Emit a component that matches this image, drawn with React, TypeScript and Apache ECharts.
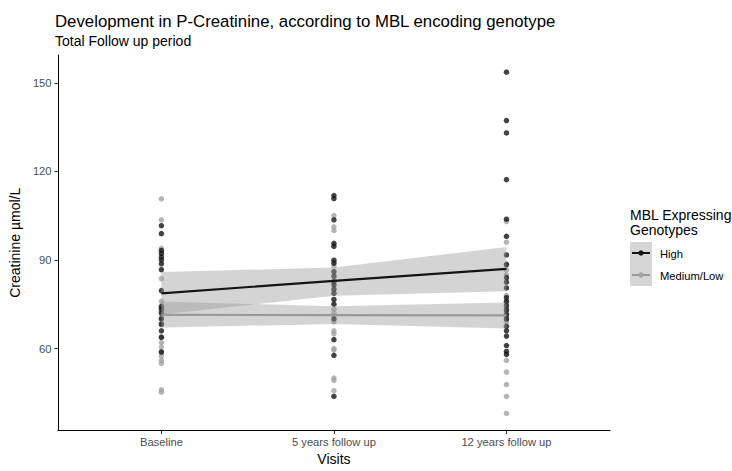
import React, { useEffect, useRef } from "react";
import * as echarts from "echarts";

const visits = ["Baseline", "5 years follow up", "12 years follow up"];
const visitX = [1, 2, 3];

// Raw observations (Creatinine µmol/L)
const highBaseline = [101.6, 98.9, 93.2, 92.2, 91, 90, 88.7, 86.7, 79.6, 74.3, 73.3, 72, 70, 68.3, 66, 63.8, 58.8];
const highFiveYears = [111.8, 110.8, 103.6, 95.6, 94.6, 89.9, 88.9, 86, 84.5, 82.6, 81.5, 80, 78.7, 76.6, 75, 70, 63, 57.7, 43.8];
const highTwelveYears = [153.6, 137.2, 133, 117.2, 103.8, 98, 91.7, 88.5, 84, 82.5, 80.5, 77.2, 76, 74.5, 73, 71.5, 70, 67.5, 66, 64.2, 61, 59, 58];

const lowBaseline = [110.7, 103.6, 93.9, 83.7, 76, 74, 72.5, 70.5, 68, 64, 62, 60.5, 59, 57.5, 56, 55, 46, 45.2];
const lowFiveYears = [105, 101.2, 100, 87.9, 83, 73.3, 72, 71, 69, 66, 65, 60, 59.5, 50, 49.2, 45.7];
const lowTwelveYears = [103, 96, 88.2, 86.6, 85, 78, 75.5, 73.5, 72, 70.5, 69, 56, 52, 47.8, 43.8, 38];

// Fitted trend and confidence band at each visit
const highFit = [78.7, 82.9, 87.0];
const highLower = [71.5, 77.9, 79.4];
const highUpper = [85.9, 87.4, 94.4];
const lowFit = [71.4, 71.3, 71.2];
const lowLower = [67.1, 68.3, 66.8];
const lowUpper = [75.9, 74.3, 75.6];

const yTicks = [60, 90, 120, 150];

const FONT = "Liberation Sans, Arial, Helvetica, sans-serif";
const HIGH_COLOR = "#141414";
const LOW_COLOR = "#a3a3a3";
const AXIS_TEXT = "#4d4d4d";

function toPoints(groups: number[][]) {
  const out: number[][] = [];
  groups.forEach((vals, i) => vals.forEach((v) => out.push([visitX[i], v])));
  return out;
}

function bandSeries(lower: number[], upper: number[]) {
  return {
    type: "custom",
    z: 3,
    silent: true,
    data: [[2, (lower[1] + upper[1]) / 2]],
    renderItem: (_params: any, api: any) => {
      const pts: number[][] = [];
      for (let i = 0; i < visitX.length; i++) pts.push(api.coord([visitX[i], upper[i]]));
      for (let i = visitX.length - 1; i >= 0; i--) pts.push(api.coord([visitX[i], lower[i]]));
      return {
        type: "polygon",
        shape: { points: pts },
        style: { fill: "rgba(153,153,153,0.42)", stroke: "none" },
      };
    },
  };
}

export default function App() {
  const ref = useRef<HTMLDivElement>(null);
  useEffect(() => {
    if (!ref.current) return;
    const chart = echarts.init(ref.current, undefined, { renderer: "svg" });
    chart.setOption({
      animation: false,
      backgroundColor: "#ffffff",
      textStyle: { fontFamily: FONT },
      grid: { left: 55, right: 122, top: 55, bottom: 35, containLabel: false },
      xAxis: {
        type: "value",
        min: 0.4,
        max: 3.6,
        name: "Visits",
        nameLocation: "middle",
        nameGap: 20,
        nameTextStyle: { fontFamily: FONT, fontSize: 14, color: "#000000" },
        axisLine: { show: true, lineStyle: { color: "#000000", width: 1 } },
        axisTick: { show: true, length: 3.5, customValues: visitX, lineStyle: { color: "#333333" } },
        axisLabel: {
          customValues: visitX,
          formatter: (v: number) => visits[Math.round(v) - 1] ?? "",
          fontFamily: FONT,
          fontSize: 11.2,
          color: AXIS_TEXT,
          margin: 5.5,
        },
        splitLine: { show: false },
      },
      yAxis: {
        type: "value",
        min: 32.2,
        max: 159.4,
        name: "Creatinine µmol/L",
        nameLocation: "middle",
        nameGap: 28,
        nameTextStyle: { fontFamily: FONT, fontSize: 14, color: "#000000" },
        axisLine: { show: true, lineStyle: { color: "#000000", width: 1 } },
        axisTick: { show: true, length: 3.5, customValues: yTicks, lineStyle: { color: "#333333" } },
        axisLabel: {
          customValues: yTicks,
          fontFamily: FONT,
          fontSize: 11.2,
          color: AXIS_TEXT,
          margin: 6.3,
        },
        splitLine: { show: false },
      },
      series: [
        {
          name: "Medium/Low",
          type: "scatter",
          z: 1,
          symbolSize: 5.5,
          itemStyle: { color: LOW_COLOR },
          data: toPoints([lowBaseline, lowFiveYears, lowTwelveYears]),
        },
        {
          name: "High",
          type: "scatter",
          z: 2,
          symbolSize: 5.5,
          itemStyle: { color: HIGH_COLOR },
          data: toPoints([highBaseline, highFiveYears, highTwelveYears]),
        },
        bandSeries(highLower, highUpper),
        bandSeries(lowLower, lowUpper),
        {
          name: "High fit",
          type: "line",
          z: 5,
          symbol: "none",
          lineStyle: { color: HIGH_COLOR, width: 2.2 },
          data: visitX.map((x, i) => [x, highFit[i]]),
        },
        {
          name: "Medium/Low fit",
          type: "line",
          z: 4,
          symbol: "none",
          lineStyle: { color: "#999999", width: 2.2 },
          data: visitX.map((x, i) => [x, lowFit[i]]),
        },
      ],
      graphic: [
        {
          type: "text",
          x: 55,
          y: 21,
          style: {
            text: "Development in P-Creatinine, according to MBL encoding genotype",
            font: `16.8px ${FONT}`,
            fill: "#000000",
            verticalAlign: "middle",
          },
        },
        {
          type: "text",
          x: 55,
          y: 41,
          style: {
            text: "Total Follow up period",
            font: `14px ${FONT}`,
            fill: "#000000",
            verticalAlign: "middle",
          },
        },
        {
          type: "text",
          x: 630,
          y: 215,
          style: { text: "MBL Expressing", font: `14px ${FONT}`, fill: "#000000", verticalAlign: "middle" },
        },
        {
          type: "text",
          x: 630,
          y: 229.5,
          style: { text: "Genotypes", font: `14px ${FONT}`, fill: "#000000", verticalAlign: "middle" },
        },
        { type: "rect", shape: { x: 630, y: 242, width: 22, height: 44 }, style: { fill: "#d6d6d6" } },
        { type: "line", shape: { x1: 632, y1: 253, x2: 650, y2: 253 }, style: { stroke: HIGH_COLOR, lineWidth: 2 } },
        { type: "circle", shape: { cx: 641, cy: 253, r: 2.7 }, style: { fill: HIGH_COLOR } },
        { type: "line", shape: { x1: 632, y1: 275, x2: 650, y2: 275 }, style: { stroke: "#999999", lineWidth: 2 } },
        { type: "circle", shape: { cx: 641, cy: 275, r: 2.7 }, style: { fill: LOW_COLOR } },
        {
          type: "text",
          x: 660,
          y: 253.5,
          style: { text: "High", font: `11.2px ${FONT}`, fill: "#000000", verticalAlign: "middle" },
        },
        {
          type: "text",
          x: 660,
          y: 275.5,
          style: { text: "Medium/Low", font: `11.2px ${FONT}`, fill: "#000000", verticalAlign: "middle" },
        },
      ],
    });
    return () => chart.dispose();
  }, []);
  return (
    <div
      ref={ref}
      style={{ position: "fixed", left: 0, top: 0, width: 732, height: 471, background: "#fff" }}
    />
  );
}
